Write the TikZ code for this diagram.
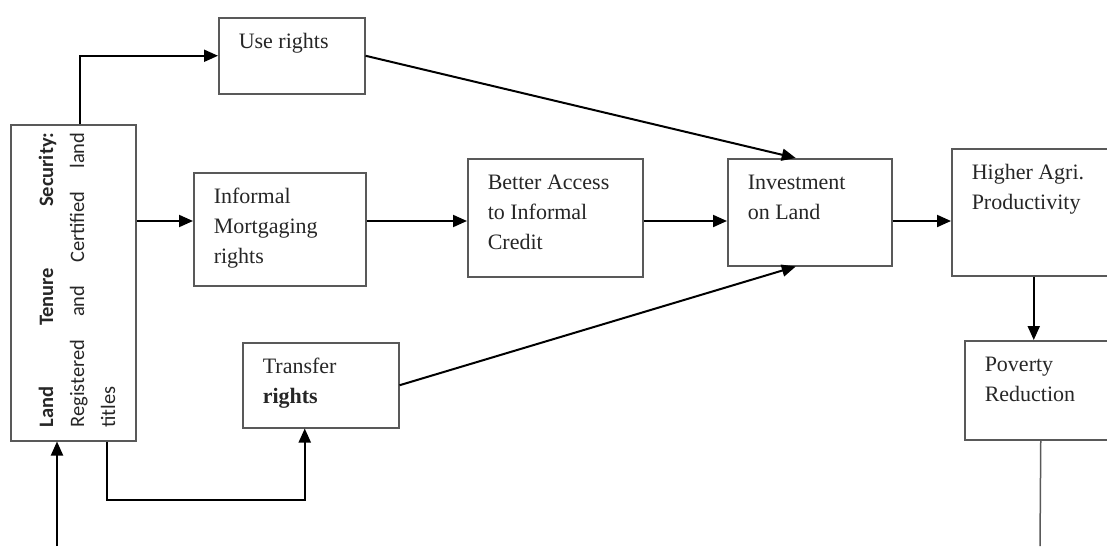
\documentclass[tikz,border=0pt]{standalone}
\usepackage{fontspec}
\setmainfont{Liberation Serif}
\newfontfamily\landfont{Carlito}
\usetikzlibrary{arrows.meta}
\newcommand{\boxtxt}[3]{\parbox[c][#2][t]{#1}{\vspace*{10pt}\leftskip=20pt\rightskip=0pt plus 1fil\parindent=0pt\strut #3}}
\begin{document}
\begin{tikzpicture}[x=1pt,y=-1pt,
  box/.style={draw=black!65,line width=1.5pt,inner sep=0pt,anchor=north west,
    font=\fontsize{22}{30}\selectfont,text=black!85},
  arr/.style={line width=2pt,-{Triangle[length=14pt,width=12pt]}}]
\useasboundingbox (0,0) rectangle (1107,546);
\coordinate (row) at (0,221);
\coordinate (bend) at (107,500);
\coordinate (input) at (57,546);
\coordinate (povout) at (1040,546);
% boxes
\node[box,minimum width=125pt,minimum height=316pt] (land) at (10,124) {};
\node[rotate=90,text width=295pt,align=justify,inner sep=0pt,text=black!85,
  font=\landfont\fontsize{20.5}{31}\selectfont] (tenure) at (77,280)
  {\textbf{Land Tenure Security:}\linebreak Registered and Certified land\linebreak titles};
\node[box] (use) at (218,17) {\boxtxt{146pt}{76pt}{Use rights}};
\node[box] (mort) at (193,172) {\boxtxt{172pt}{113pt}{Informal\\Mortgaging\\rights}};
\node[box] (credit) at (467,158) {\boxtxt{175pt}{118pt}{Better Access\\to Informal\\Credit}};
\node[box] (invest) at (727,158) {\boxtxt{164pt}{107pt}{Investment\\on Land}};
\node[box] (agri) at (951,148) {\boxtxt{170pt}{127pt}{Higher Agri.\\Productivity}};
\node[box] (poverty) at (964,340) {\boxtxt{160pt}{99pt}{Poverty\\Reduction}};
\node[box] (transfer) at (242,342) {\boxtxt{156pt}{85pt}{Transfer\\\textbf{rights}}};
% arrows
\draw[arr] ([xshift=6.5pt]land.north) |- (use.west);
\draw[arr] (land.east |- row) -- (mort.west |- row);
\draw[arr] (mort.east |- row) -- (credit.west |- row);
\draw[arr] (credit.east |- row) -- (invest.west |- row);
\draw[arr] (invest.east |- row) -- (agri.west |- row);
\draw[arr] (use.east) -- ([xshift=-14pt]invest.north);
\draw[arr] (transfer.east) -- ([xshift=-14pt]invest.south);
\draw[arr] ([xshift=-3pt]agri.south) -- ([xshift=-3pt]agri.south |- poverty.north);
\draw[arr] (land.south -| bend) -- (bend) -| ([xshift=-16pt]transfer.south);
\draw[arr] (input) -- (land.south -| input);
\draw[line width=1.5pt,draw=black!65] ([xshift=-4pt]poverty.south) -- (povout);
\end{tikzpicture}
\end{document}
